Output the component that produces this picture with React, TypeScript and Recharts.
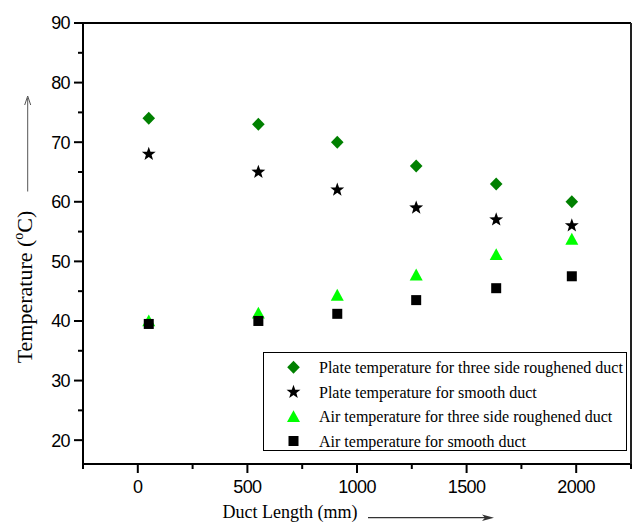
import React from "react";
import {
  ScatterChart,
  Scatter,
  XAxis,
  YAxis,
  ReferenceLine,
} from "recharts";

// ---- data ----
const ductLength = [50, 550, 910, 1270, 1635, 1980];
const plateRough = [74, 73, 70, 66, 63, 60];
const plateSmooth = [68, 65, 62, 59, 57, 56];
const airRough = [40, 41.3, 44.3, 47.7, 51.1, 53.7];
const airSmooth = [39.5, 40, 41.2, 43.5, 45.5, 47.5];

const xTicks = [-250, 0, 250, 500, 750, 1000, 1250, 1500, 1750, 2000, 2250];
const xMajor = [0, 500, 1000, 1500, 2000];
const yTicks = [20, 25, 30, 35, 40, 45, 50, 55, 60, 65, 70, 75, 80, 85, 90];
const yMajor = [20, 30, 40, 50, 60, 70, 80, 90];
const rightTicks = [0, 1, 2, 3, 4, 5, 6, 7, 8, 9, 10];

const legendLabels = [
  "Plate temperature for three side roughened duct",
  "Plate temperature for smooth duct",
  "Air temperature for three side roughened duct",
  "Air temperature for smooth duct",
];

const toPoints = (ys: number[]) => ductLength.map((x, i) => ({ x, y: ys[i] }));

const SERIF = "'Liberation Serif', 'Times New Roman', serif";
const SANS = "'Liberation Sans', Arial, sans-serif";

// ---- marker shapes ----
const Diamond = ({ cx, cy }: any) => (
  <polygon
    points={`${cx},${cy - 6.5} ${cx + 6.3},${cy} ${cx},${cy + 6.5} ${cx - 6.3},${cy}`}
    fill="#008000"
  />
);
const Star = ({ cx, cy }: any) => {
  const pts: string[] = [];
  const R = 7.3,
    r = 3;
  for (let i = 0; i < 10; i++) {
    const rad = i % 2 === 0 ? R : r;
    const a = -Math.PI / 2 + (i * Math.PI) / 5;
    pts.push(`${cx + rad * Math.cos(a)},${cy + rad * Math.sin(a)}`);
  }
  return <polygon points={pts.join(" ")} fill="#000" />;
};
const Triangle = ({ cx, cy }: any) => (
  <polygon
    points={`${cx},${cy - 6.5} ${cx + 6.5},${cy + 5.3} ${cx - 6.5},${cy + 5.3}`}
    fill="#00ff00"
  />
);
const Square = ({ cx, cy }: any) => (
  <rect x={cx - 5} y={cy - 5} width={10} height={10} fill="#000" />
);

const shapes = [Diamond, Star, Triangle, Square];

// ---- ticks ----
const YTick = (props: any) => {
  const { x, y, payload } = props;
  const ax = x + 13;
  const major = yMajor.includes(payload.value);
  return (
    <g>
      <line x1={ax - (major ? 9 : 5)} x2={ax} y1={y} y2={y} stroke="#000" strokeWidth={2} />
      {major && (
        <text
          x={ax - 13}
          y={y}
          dy="0.36em"
          textAnchor="end"
          fontFamily={SANS}
          fontSize={18}
          letterSpacing={-0.6}
          fill="#000"
        >
          {payload.value}
        </text>
      )}
    </g>
  );
};

const XTick = (props: any) => {
  const { x, y, payload } = props;
  const ay = y - 13;
  const major = xMajor.includes(payload.value);
  return (
    <g>
      <line x1={x} x2={x} y1={ay} y2={ay + (major ? 9 : 5)} stroke="#000" strokeWidth={2} />
      {major && (
        <text
          x={x}
          y={ay + 16}
          dy="0.72em"
          textAnchor="middle"
          fontFamily={SANS}
          fontSize={18}
          letterSpacing={-0.6}
          fill="#000"
        >
          {payload.value}
        </text>
      )}
    </g>
  );
};

// ---- decorations: legend, axis titles, arrows ----
const Decorations = () => {
  const rowY = [367.3, 392.1, 416.7, 441];
  return (
    <g>
      <rect x={263.5} y={352.5} width={363} height={98} fill="#fff" stroke="#000" strokeWidth={1} />
      {legendLabels.map((lab, i) => {
        const S = shapes[i];
        return (
          <g key={lab}>
            <S cx={293.5} cy={rowY[i]} />
            <text
              x={319}
              y={rowY[i]}
              dy="0.35em"
              fontFamily={SERIF}
              fontSize={16}
              fill="#000"
            >
              {lab}
            </text>
          </g>
        );
      })}
      {/* y axis title */}
      <text
        transform="translate(32,287) rotate(-90)"
        textAnchor="middle"
        fontFamily={SERIF}
        fontSize={22}
        fill="#000"
      >
        Temperature (
        <tspan fontSize={14} dy={-9}>
          o
        </tspan>
        <tspan dy={9}>C)</tspan>
      </text>
      {/* y arrow */}
      <line x1={27.7} y1={191.5} x2={27.7} y2={98} stroke="#555" strokeWidth={1} />
      <polyline points="24.7,105 27.7,96 30.7,105" fill="none" stroke="#555" strokeWidth={1} />
      {/* x axis title */}
      <text x={222.5} y={518} fontFamily={SERIF} fontSize={18} fill="#000">
        Duct Length (mm)
      </text>
      <line x1={368} y1={517.7} x2={486} y2={517.7} stroke="#333" strokeWidth={1.2} />
      <polygon points="494,517.7 482,514.5 485,517.7 482,521" fill="#333" />
    </g>
  );
};

export default function App() {
  return (
    <div style={{ position: "absolute", left: 0, top: 0, background: "#fff" }}>
      <ScatterChart
        width={638}
        height={527}
        margin={{ top: 23, right: 6, bottom: 23, left: 23 }}
      >
        <XAxis
          type="number"
          dataKey="x"
          domain={[-250, 2250]}
          ticks={xTicks}
          interval={0}
          allowDataOverflow
          height={40}
          tickSize={9}
          tickMargin={4}
          tickLine={false}
          tick={<XTick />}
          axisLine={{ stroke: "#000", strokeWidth: 2 }}
        />
        <YAxis
          type="number"
          dataKey="y"
          domain={[16, 90]}
          ticks={yTicks}
          interval={0}
          allowDataOverflow
          width={60}
          tickSize={9}
          tickMargin={4}
          tickLine={false}
          tick={<YTick />}
          axisLine={{ stroke: "#000", strokeWidth: 2 }}
        />
        <YAxis
          yAxisId="r"
          orientation="right"
          type="number"
          domain={[0, 10]}
          ticks={rightTicks}
          interval={0}
          width={1}
          tick={false}
          tickSize={3}
          tickLine={{ stroke: "#222", strokeWidth: 1.5 }}
          axisLine={{ stroke: "#222", strokeWidth: 2 }}
        />
        <ReferenceLine y={90} stroke="#000" strokeWidth={2} />
        <Scatter
          name={legendLabels[0]}
          data={toPoints(plateRough)}
          shape={(p: any) => <Diamond cx={p.cx} cy={p.cy} />}
          isAnimationActive={false}
        />
        <Scatter
          name={legendLabels[1]}
          data={toPoints(plateSmooth)}
          shape={(p: any) => <Star cx={p.cx} cy={p.cy} />}
          isAnimationActive={false}
        />
        <Scatter
          name={legendLabels[2]}
          data={toPoints(airRough)}
          shape={(p: any) => <Triangle cx={p.cx} cy={p.cy} />}
          isAnimationActive={false}
        />
        <Scatter
          name={legendLabels[3]}
          data={toPoints(airSmooth)}
          shape={(p: any) => <Square cx={p.cx} cy={p.cy} />}
          isAnimationActive={false}
        />
        <Decorations />
      </ScatterChart>
    </div>
  );
}
